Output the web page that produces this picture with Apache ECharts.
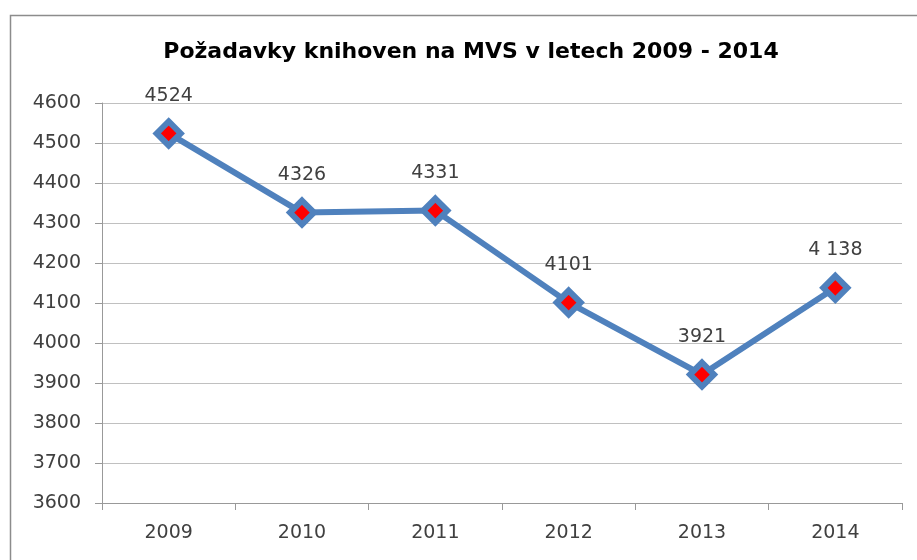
<!DOCTYPE html>
<html>
<head>
<meta charset="utf-8">
<script src="https://cdn.jsdelivr.net/npm/echarts@6/dist/echarts.min.js"></script>
<style>
  html, body { margin: 0; padding: 0; background: #fff; }
  #chart { width: 917px; height: 560px; }
</style>
</head>
<body>
<div id="chart"></div>
<script>
// data
const years = ["2009", "2010", "2011", "2012", "2013", "2014"];
const requests = [4524, 4326, 4331, 4101, 3921, 4138];
const pointLabels = ["4524", "4326", "4331", "4101", "3921", "4 138"];

const chart = echarts.init(document.getElementById("chart"));

const option = {
  animation: false,
  backgroundColor: "#fff",
  title: {
    text: "Požadavky knihoven na MVS v letech 2009 - 2014",
    left: 466,
    textAlign: "center",
    top: 36,
    textStyle: {
      fontFamily: "DejaVu Sans",
      fontWeight: "bold",
      fontSize: 22,
      color: "#000"
    }
  },
  graphic: [
    {
      // outer chart frame
      type: "rect",
      shape: { x: 10.5, y: 15.5, width: 940, height: 600 },
      style: { fill: "none", stroke: "#8c8c8c", lineWidth: 1.5 },
      silent: true
    }
  ],
  grid: {
    left: 102,
    right: 15,
    top: 103,
    bottom: 57
  },
  xAxis: {
    type: "category",
    data: years,
    boundaryGap: true,
    axisLine: { lineStyle: { color: "#999", width: 1 } },
    axisTick: { show: true, length: 7, lineStyle: { color: "#999" } },
    axisLabel: {
      margin: 21,
      fontFamily: "DejaVu Sans",
      fontSize: 19,
      color: "#404040"
    },
    splitLine: { show: false }
  },
  yAxis: {
    type: "value",
    min: 3600,
    max: 4600,
    interval: 100,
    axisLine: { show: true, lineStyle: { color: "#999", width: 1 } },
    axisTick: { show: true, length: 7, lineStyle: { color: "#999" } },
    axisLabel: {
      margin: 21,
      fontFamily: "DejaVu Sans",
      fontSize: 19,
      color: "#404040",
      formatter: function (v) { return String(v); }
    },
    splitLine: { show: true, lineStyle: { color: "#c0c0c0", width: 1 } }
  },
  series: [
    {
      type: "line",
      data: requests,
      symbol: "diamond",
      symbolSize: 24,
      lineStyle: { color: "#4f81bd", width: 6 },
      itemStyle: {
        color: "#ff0000",
        borderColor: "#4f81bd",
        borderWidth: 6
      },
      label: {
        show: true,
        position: "top",
        distance: 13,
        fontFamily: "DejaVu Sans",
        fontSize: 19,
        color: "#404040",
        formatter: function (p) {
          return pointLabels[p.dataIndex];
        }
      },
      z: 3
    }
  ]
};

chart.setOption(option);
</script>
</body>
</html>
